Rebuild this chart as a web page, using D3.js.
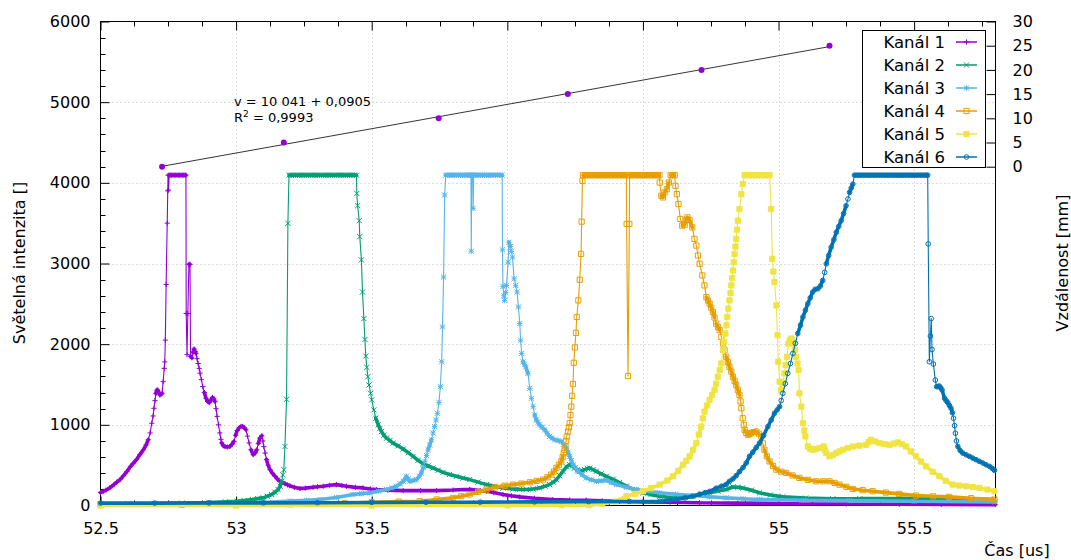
<!DOCTYPE html>
<html>
<head>
<meta charset="utf-8">
<script src="https://cdn.jsdelivr.net/npm/d3@7"></script>
<style>
  body { margin: 0; background: #fff; }
  text { font-family: "DejaVu Sans", Verdana, sans-serif; fill: #000; }
</style>
</head>
<body>
<svg id="chart" width="1071" height="560"></svg>
<script>
// ---- data: time [us] vs. light intensity, one array per channel ----
const channelNames = ["Kanál 1", "Kanál 2", "Kanál 3", "Kanál 4", "Kanál 5", "Kanál 6"];
const channelColors = ["#9400d3", "#009e73", "#56b4e9", "#e69f00", "#f0e442", "#0072b2"];
const channelSymbols = ["plus", "cross", "star", "square", "squareFilled", "circle"];

const ch1 = [[52.500,160],[52.510,175],[52.520,190],[52.535,220],[52.550,260],[52.560,290],[52.572,320],[52.585,370],[52.597,420],[52.610,480],[52.620,520],[52.633,570],[52.645,630],[52.658,690],[52.668,750],[52.676,815],[52.683,900],[52.689,1020],[52.694,1110],[52.697,1205],[52.701,1300],[52.704,1390],[52.708,1430],[52.711,1430],[52.715,1400],[52.719,1370],[52.723,1380],[52.727,1390],[52.731,1535],[52.735,1700],[52.737,1780],[52.739,2050],[52.742,2740],[52.746,3500],[52.748,3900],[52.749,4095],[52.751,3910],[52.753,4095],[52.757,4095],[52.762,4095],[52.767,4095],[52.772,4095],[52.777,4095],[52.782,4095],[52.787,4095],[52.792,4095],[52.797,4095],[52.802,4095],[52.807,4095],[52.812,4095],[52.815,4095],[52.816,2380],[52.819,1870],[52.822,2380],[52.826,2990],[52.830,2990],[52.832,1850],[52.837,1830],[52.841,1900],[52.845,1940],[52.849,1910],[52.852,1885],[52.856,1820],[52.860,1760],[52.864,1700],[52.867,1640],[52.872,1560],[52.877,1475],[52.883,1400],[52.889,1330],[52.895,1290],[52.901,1275],[52.907,1310],[52.913,1340],[52.918,1320],[52.922,1290],[52.926,1200],[52.930,1105],[52.935,1000],[52.940,900],[52.944,820],[52.947,775],[52.953,740],[52.959,730],[52.968,725],[52.977,730],[52.985,760],[52.992,795],[52.998,870],[53.004,930],[53.012,965],[53.018,980],[53.024,980],[53.030,965],[53.036,940],[53.042,860],[53.048,775],[53.055,690],[53.063,630],[53.070,650],[53.076,690],[53.082,770],[53.088,835],[53.095,865],[53.099,800],[53.102,730],[53.107,650],[53.112,570],[53.118,500],[53.125,445],[53.134,400],[53.143,365],[53.152,330],[53.161,300],[53.170,285],[53.180,270],[53.190,255],[53.198,245],[53.215,225],[53.235,210],[53.255,215],[53.284,226],[53.300,232],[53.321,238],[53.345,250],[53.370,259],[53.390,248],[53.407,238],[53.440,225],[53.468,218],[53.495,205],[53.518,198],[53.560,190],[53.616,185],[53.680,185],[53.739,185],[53.800,192],[53.861,200],[53.900,185],[53.923,177],[53.950,160],[53.984,136],[54.015,120],[54.046,107],[54.100,90],[54.168,74],[54.230,68],[54.291,66],[54.350,58],[54.414,50],[54.500,45],[54.600,40],[54.709,35],[54.850,30],[55.072,22],[55.250,18],[55.445,15],[55.600,12],[55.799,10]];

const ch2 = [[52.500,20],[52.600,22],[52.700,25],[52.800,30],[52.900,38],[52.960,45],[53.004,53],[53.030,62],[53.060,75],[53.080,85],[53.100,95],[53.115,115],[53.131,136],[53.143,165],[53.155,198],[53.162,240],[53.168,300],[53.172,380],[53.176,444],[53.180,732],[53.186,1317],[53.191,3498],[53.195,4095],[53.203,4095],[53.211,4095],[53.219,4095],[53.227,4095],[53.235,4095],[53.243,4095],[53.251,4095],[53.259,4095],[53.267,4095],[53.275,4095],[53.283,4095],[53.291,4095],[53.299,4095],[53.307,4095],[53.315,4095],[53.323,4095],[53.331,4095],[53.339,4095],[53.347,4095],[53.355,4095],[53.363,4095],[53.371,4095],[53.379,4095],[53.387,4095],[53.395,4095],[53.403,4095],[53.411,4095],[53.419,4095],[53.427,4095],[53.435,4095],[53.444,4095],[53.445,3868],[53.448,3716],[53.454,3531],[53.456,3333],[53.462,3045],[53.466,2646],[53.471,2317],[53.475,2058],[53.478,1852],[53.482,1712],[53.486,1597],[53.490,1494],[53.496,1391],[53.500,1309],[53.508,1185],[53.515,1082],[53.524,1000],[53.530,955],[53.536,917],[53.545,870],[53.555,835],[53.567,805],[53.579,774],[53.597,740],[53.616,700],[53.635,655],[53.653,609],[53.671,560],[53.689,519],[53.708,490],[53.726,465],[53.745,438],[53.763,411],[53.787,385],[53.812,362],[53.836,340],[53.861,321],[53.892,290],[53.923,259],[53.953,238],[53.984,218],[54.021,206],[54.045,200],[54.070,198],[54.095,205],[54.119,218],[54.140,240],[54.156,259],[54.170,290],[54.181,321],[54.193,370],[54.205,424],[54.218,480],[54.230,506],[54.240,490],[54.248,465],[54.258,440],[54.267,424],[54.276,432],[54.285,444],[54.295,458],[54.304,465],[54.316,445],[54.328,424],[54.346,392],[54.365,362],[54.390,325],[54.414,285],[54.439,240],[54.470,190],[54.500,157],[54.530,135],[54.562,115],[54.590,103],[54.623,95],[54.655,103],[54.684,115],[54.715,140],[54.746,157],[54.777,180],[54.807,198],[54.832,230],[54.850,225],[54.868,218],[54.900,190],[54.930,157],[54.970,130],[55.016,107],[55.100,92],[55.200,83],[55.300,85],[55.445,90],[55.600,82],[55.796,74]];

const ch3 = [[52.500,15],[52.700,16],[52.900,20],[53.000,25],[53.100,38],[53.200,55],[53.260,65],[53.309,74],[53.370,100],[53.431,136],[53.462,147],[53.493,157],[53.525,178],[53.555,198],[53.575,218],[53.591,238],[53.605,270],[53.616,300],[53.628,362],[53.634,330],[53.640,300],[53.652,310],[53.665,321],[53.675,360],[53.683,403],[53.690,470],[53.696,547],[53.702,620],[53.708,691],[53.714,750],[53.720,815],[53.726,900],[53.732,979],[53.737,1060],[53.742,1144],[53.748,1276],[53.753,1473],[53.758,1782],[53.761,2214],[53.765,2831],[53.769,3848],[53.773,4095],[53.780,4095],[53.788,4095],[53.796,4095],[53.804,4095],[53.812,4095],[53.820,4095],[53.828,4095],[53.836,4095],[53.844,4095],[53.852,4095],[53.860,4095],[53.866,4095],[53.867,3152],[53.869,4095],[53.873,4095],[53.874,3683],[53.876,4095],[53.884,4095],[53.892,4095],[53.900,4095],[53.908,4095],[53.916,4095],[53.924,4095],[53.932,4095],[53.940,4095],[53.948,4095],[53.956,4095],[53.964,4095],[53.972,4095],[53.981,4095],[53.982,3169],[53.984,2716],[53.987,2600],[53.990,2543],[53.994,2640],[53.997,2728],[54.003,3016],[54.006,3263],[54.011,3210],[54.015,3150],[54.019,3078],[54.025,2811],[54.031,2728],[54.036,2646],[54.041,2461],[54.046,2255],[54.049,2049],[54.053,1885],[54.058,1782],[54.063,1750],[54.068,1720],[54.076,1638],[54.083,1453],[54.089,1329],[54.095,1226],[54.101,1123],[54.107,1062],[54.113,1030],[54.119,1000],[54.128,970],[54.138,938],[54.147,895],[54.156,856],[54.165,835],[54.175,815],[54.187,805],[54.199,794],[54.208,760],[54.218,712],[54.224,660],[54.230,609],[54.236,555],[54.242,506],[54.251,465],[54.261,424],[54.276,380],[54.291,342],[54.310,318],[54.328,300],[54.346,305],[54.365,313],[54.383,285],[54.402,259],[54.440,225],[54.476,198],[54.520,178],[54.562,157],[54.620,140],[54.684,123],[54.745,108],[54.807,95],[54.870,83],[54.930,74],[55.100,66],[55.261,60],[55.500,52],[55.799,45]];

const ch4 = [[52.500,8],[52.800,10],[53.000,12],[53.200,16],[53.300,20],[53.400,28],[53.500,40],[53.600,48],[53.677,53],[53.740,75],[53.800,95],[53.830,115],[53.861,136],[53.892,168],[53.923,198],[53.955,225],[53.990,245],[54.021,259],[54.052,272],[54.083,288],[54.108,305],[54.132,321],[54.148,350],[54.162,383],[54.172,420],[54.181,465],[54.190,505],[54.199,547],[54.204,600],[54.208,650],[54.211,690],[54.214,732],[54.217,800],[54.219,856],[54.224,917],[54.227,970],[54.230,1021],[54.233,1120],[54.236,1226],[54.239,1360],[54.242,1506],[54.245,1769],[54.249,1959],[54.253,2140],[54.256,2337],[54.262,2543],[54.267,2798],[54.272,3119],[54.274,3519],[54.277,4025],[54.279,4095],[54.287,4095],[54.295,4095],[54.303,4095],[54.311,4095],[54.319,4095],[54.327,4095],[54.335,4095],[54.343,4095],[54.351,4095],[54.359,4095],[54.367,4095],[54.375,4095],[54.383,4095],[54.391,4095],[54.399,4095],[54.407,4095],[54.415,4095],[54.423,4095],[54.431,4095],[54.439,4095],[54.440,3490],[54.445,1605],[54.450,3490],[54.451,4095],[54.459,4095],[54.467,4095],[54.475,4095],[54.483,4095],[54.491,4095],[54.499,4095],[54.507,4095],[54.515,4095],[54.523,4095],[54.531,4095],[54.539,4095],[54.547,4095],[54.555,4095],[54.561,4095],[54.562,4004],[54.568,3840],[54.574,3819],[54.580,3881],[54.588,3922],[54.596,4004],[54.602,4095],[54.610,4095],[54.617,4095],[54.620,3963],[54.625,3860],[54.631,3737],[54.638,3552],[54.645,3469],[54.654,3481],[54.660,3540],[54.664,3572],[54.672,3539],[54.682,3448],[54.690,3305],[54.697,3222],[54.703,3099],[54.709,2996],[54.719,2852],[54.727,2728],[54.734,2584],[54.740,2540],[54.746,2502],[54.752,2450],[54.758,2399],[54.764,2330],[54.770,2255],[54.777,2210],[54.783,2173],[54.789,2090],[54.795,2008],[54.801,1925],[54.807,1843],[54.813,1780],[54.819,1720],[54.826,1660],[54.832,1597],[54.838,1545],[54.844,1494],[54.850,1430],[54.856,1370],[54.860,1290],[54.863,1206],[54.868,1082],[54.872,1000],[54.875,938],[54.881,900],[54.887,877],[54.893,885],[54.899,897],[54.908,910],[54.918,917],[54.927,890],[54.936,856],[54.942,770],[54.948,691],[54.957,610],[54.967,547],[54.980,490],[54.992,444],[55.010,420],[55.028,403],[55.052,372],[55.077,342],[55.108,318],[55.139,300],[55.165,300],[55.188,300],[55.207,280],[55.225,259],[55.250,232],[55.274,206],[55.310,190],[55.347,177],[55.396,160],[55.445,144],[55.507,123],[55.570,114],[55.629,107],[55.710,90],[55.796,74]];

const ch5 = [[52.500,0],[53.000,0],[53.500,0],[54.000,2],[54.200,3],[54.300,5],[54.350,20],[54.400,50],[54.439,115],[54.470,145],[54.500,177],[54.530,215],[54.562,259],[54.590,310],[54.611,362],[54.630,430],[54.648,506],[54.660,555],[54.672,609],[54.685,690],[54.697,774],[54.706,880],[54.715,979],[54.721,1080],[54.727,1164],[54.737,1240],[54.746,1309],[54.755,1370],[54.764,1432],[54.770,1510],[54.776,1597],[54.783,1680],[54.789,1761],[54.795,1926],[54.800,2030],[54.804,2132],[54.808,2235],[54.811,2337],[54.815,2440],[54.819,2543],[54.823,2635],[54.826,2728],[54.829,2820],[54.832,2914],[54.835,3015],[54.838,3119],[54.841,3210],[54.844,3305],[54.847,3420],[54.850,3531],[54.856,3675],[54.863,3860],[54.868,3984],[54.875,4095],[54.883,4095],[54.891,4095],[54.899,4095],[54.907,4095],[54.915,4095],[54.923,4095],[54.931,4095],[54.939,4095],[54.947,4095],[54.955,4095],[54.963,4095],[54.967,4095],[54.973,3675],[54.977,3058],[54.981,2900],[54.985,2769],[54.992,2481],[54.996,2111],[54.999,1782],[55.004,1535],[55.010,1432],[55.016,1514],[55.022,1638],[55.026,1740],[55.031,1843],[55.037,2008],[55.042,2050],[55.047,2070],[55.051,2050],[55.055,2008],[55.060,1930],[55.065,1843],[55.070,1760],[55.074,1679],[55.077,1391],[55.084,1226],[55.090,1021],[55.095,930],[55.099,856],[55.108,732],[55.117,705],[55.126,691],[55.138,700],[55.151,712],[55.166,732],[55.171,690],[55.176,650],[55.188,609],[55.200,625],[55.213,650],[55.225,670],[55.237,691],[55.255,712],[55.274,732],[55.298,742],[55.323,753],[55.332,785],[55.341,815],[55.356,795],[55.372,774],[55.390,762],[55.409,753],[55.425,768],[55.440,782],[55.455,760],[55.470,732],[55.488,670],[55.507,609],[55.525,545],[55.544,485],[55.568,420],[55.593,362],[55.617,305],[55.642,259],[55.667,248],[55.692,238],[55.716,228],[55.741,218],[55.770,198],[55.796,177]];

const ch6 = [[52.500,30],[52.700,30],[52.900,32],[53.100,33],[53.300,35],[53.500,38],[53.700,40],[53.900,42],[54.100,45],[54.300,48],[54.450,50],[54.562,53],[54.600,65],[54.623,74],[54.655,95],[54.684,115],[54.709,140],[54.730,160],[54.746,175],[54.770,215],[54.790,240],[54.807,262],[54.819,300],[54.832,330],[54.844,370],[54.856,420],[54.869,470],[54.881,527],[54.893,609],[54.905,660],[54.918,720],[54.930,774],[54.945,870],[54.961,979],[54.973,1060],[54.985,1144],[54.995,1185],[55.004,1226],[55.010,1300],[55.016,1391],[55.025,1510],[55.034,1638],[55.044,1760],[55.053,1885],[55.062,2010],[55.071,2132],[55.081,2235],[55.090,2337],[55.099,2420],[55.108,2502],[55.117,2575],[55.126,2646],[55.135,2680],[55.145,2687],[55.154,2720],[55.163,2790],[55.170,2890],[55.176,2996],[55.185,3100],[55.194,3201],[55.204,3295],[55.213,3387],[55.222,3460],[55.231,3531],[55.240,3620],[55.249,3716],[55.256,3800],[55.262,3881],[55.268,3935],[55.274,3984],[55.280,4095],[55.288,4095],[55.296,4095],[55.304,4095],[55.312,4095],[55.320,4095],[55.328,4095],[55.336,4095],[55.344,4095],[55.352,4095],[55.360,4095],[55.368,4095],[55.376,4095],[55.384,4095],[55.392,4095],[55.400,4095],[55.408,4095],[55.416,4095],[55.424,4095],[55.432,4095],[55.440,4095],[55.448,4095],[55.456,4095],[55.464,4095],[55.472,4095],[55.480,4095],[55.488,4095],[55.496,4095],[55.504,4095],[55.512,4095],[55.520,4095],[55.528,4095],[55.536,4095],[55.544,4095],[55.550,4095],[55.552,3243],[55.556,1782],[55.560,2100],[55.563,2317],[55.566,1934],[55.571,1753],[55.578,1556],[55.583,1473],[55.588,1475],[55.593,1481],[55.598,1460],[55.603,1432],[55.612,1329],[55.618,1300],[55.624,1276],[55.630,1240],[55.636,1206],[55.641,1150],[55.645,1082],[55.649,990],[55.652,897],[55.656,800],[55.661,732],[55.670,680],[55.679,650],[55.692,628],[55.704,609],[55.716,588],[55.728,568],[55.740,548],[55.753,527],[55.765,505],[55.778,485],[55.788,460],[55.796,436]];

const channels = [ch1, ch2, ch3, ch4, ch5, ch6];

// detector positions: arrival time [us] vs. distance [mm]
const fitTimes = [52.727, 53.176, 53.747, 54.223, 54.716, 55.188];
const fitDistances = [0, 5, 10, 15, 20, 25];

const xTicks = [52.5, 53, 53.5, 54, 54.5, 55, 55.5];
const yTicks = [0, 1000, 2000, 3000, 4000, 5000, 6000];
const y2Ticks = [0, 5, 10, 15, 20, 25, 30];

// ---- layout ----
const svg = d3.select("#chart");
const L = 100.5, R = 995.5, T = 21.5, B = 505.5;

const x = d3.scaleLinear().domain([52.5, 55.8]).range([L, R]);
const y = d3.scaleLinear().domain([0, 6000]).range([B, T]);
const y2 = d3.scaleLinear().domain([-70, 30]).range([B, T]);

svg.append("rect").attr("width", 1071).attr("height", 560).attr("fill", "#fff");

// grid
const grid = svg.append("g").attr("stroke", "#b8b8b8").attr("stroke-width", 1)
  .attr("stroke-dasharray", "1,3").attr("fill", "none");
grid.selectAll(".gx").data(xTicks.filter(d => d > 52.5)).join("line")
  .attr("x1", d => Math.round(x(d)) + 0.5).attr("x2", d => Math.round(x(d)) + 0.5)
  .attr("y1", T).attr("y2", B);
grid.selectAll(".gy").data(yTicks.filter(d => d > 0 && d < 6000)).join("line")
  .attr("x1", L).attr("x2", R)
  .attr("y1", d => Math.round(y(d)) + 0.5).attr("y2", d => Math.round(y(d)) + 0.5);

// axes
function styleAxis(g) {
  g.select(".domain").remove();
  g.selectAll(".tick line").attr("stroke", "#000");
  g.selectAll(".tick text").attr("font-size", 16).attr("fill", "#000")
    .style("font-family", "'DejaVu Sans', Verdana, sans-serif");
}
svg.append("g").attr("transform", `translate(0,${B})`)
  .call(d3.axisBottom(x).tickValues(xTicks).tickSize(-9).tickPadding(17).tickFormat(d3.format("")))
  .call(styleAxis);
svg.append("g").attr("transform", `translate(0,${T})`)
  .call(d3.axisTop(x).tickValues(xTicks).tickSize(-9).tickFormat(""))
  .call(styleAxis);
svg.append("g").attr("transform", `translate(${L},0)`)
  .call(d3.axisLeft(y).tickValues(yTicks).tickSize(-9).tickPadding(10).tickFormat(d3.format("d")))
  .call(styleAxis);
svg.append("g").attr("transform", `translate(${R},0)`)
  .call(d3.axisRight(y2).tickValues(y2Ticks).tickSize(-9).tickPadding(17).tickFormat(d3.format("d")))
  .call(styleAxis);

// minor ticks
const minorX = d3.range(52.625, 55.8, 0.125).filter(v => Math.abs(v * 2 - Math.round(v * 2)) > 1e-6);
const minorY = d3.range(200, 6000, 200).filter(v => v % 1000 !== 0);
const mt = svg.append("g").attr("stroke", "#000").attr("stroke-width", 1);
mt.selectAll(".mxb").data(minorX).join("line")
  .attr("x1", d => Math.round(x(d)) + 0.5).attr("x2", d => Math.round(x(d)) + 0.5)
  .attr("y1", B).attr("y2", B - 5);
mt.selectAll(".mxt").data(minorX).join("line")
  .attr("x1", d => Math.round(x(d)) + 0.5).attr("x2", d => Math.round(x(d)) + 0.5)
  .attr("y1", T).attr("y2", T + 5);
mt.selectAll(".my").data(minorY).join("line")
  .attr("x1", L).attr("x2", L + 5)
  .attr("y1", d => Math.round(y(d)) + 0.5).attr("y2", d => Math.round(y(d)) + 0.5);

// border
svg.append("rect").attr("x", L).attr("y", T).attr("width", R - L).attr("height", B - T)
  .attr("fill", "none").attr("stroke", "#000").attr("stroke-width", 1);

// axis titles
svg.append("text").attr("transform", "translate(25,263) rotate(-90)")
  .attr("text-anchor", "middle").attr("font-size", 16).text("Světelná intenzita []");
svg.append("text").attr("transform", "translate(1068,263) rotate(-90)")
  .attr("text-anchor", "middle").attr("font-size", 16).text("Vzdálenost [mm]");
svg.append("text").attr("x", 1017).attr("y", 556)
  .attr("text-anchor", "middle").attr("font-size", 16).text("Čas [us]");

// point symbols
function symbolPath(kind, s) {
  switch (kind) {
    case "plus": return `M${-s},0H${s}M0,${-s}V${s}`;
    case "cross": return `M${-s},${-s}L${s},${s}M${-s},${s}L${s},${-s}`;
    case "star": return `M${-s},0H${s}M0,${-s}V${s}M${-s},${-s}L${s},${s}M${-s},${s}L${s},${-s}`;
    case "square":
    case "squareFilled": return `M${-s},${-s}H${s}V${s}H${-s}Z`;
    case "circle": return d3.symbol(d3.symbolCircle, Math.PI * s * s * 0.8)();
  }
}
function drawSymbol(g, kind, color, px, py) {
  const s = 2.6;
  const filled = kind === "squareFilled";
  g.append("path").attr("d", symbolPath(kind, s))
    .attr("transform", `translate(${px},${py})`)
    .attr("fill", filled ? color : "none")
    .attr("stroke", color).attr("stroke-width", 1);
}

// series: where consecutive samples sit close together on screen their
// symbols merge into a solid band, so gentle stretches get a wide stroke
const plot = svg.append("g");
const line = d3.line().x(d => x(d[0])).y(d => y(d[1]));
channels.forEach((data, i) => {
  const g = plot.append("g");
  const band = d3.path();
  for (let k = 1; k < data.length; k++) {
    const x0 = x(data[k - 1][0]), y0 = y(data[k - 1][1]);
    const x1 = x(data[k][0]), y1 = y(data[k][1]);
    if (Math.abs(y1 - y0) <= 3.5 * Math.abs(x1 - x0)) {
      band.moveTo(x0, y0);
      band.lineTo(x1, y1);
    }
  }
  g.append("path").attr("d", band.toString())
    .attr("fill", "none").attr("stroke", channelColors[i]).attr("stroke-width", 3.6)
    .attr("stroke-linecap", "round").attr("stroke-linejoin", "round");
  g.append("path").datum(data).attr("d", line)
    .attr("fill", "none").attr("stroke", channelColors[i]).attr("stroke-width", 1.1)
    .attr("stroke-linejoin", "round");
  data.forEach(d => drawSymbol(g, channelSymbols[i], channelColors[i], x(d[0]), y(d[1])));
});

// linear fit of distance vs. time
const meanT = d3.mean(fitTimes), meanD = d3.mean(fitDistances);
const slope = d3.sum(fitTimes.map((t, i) => (t - meanT) * (fitDistances[i] - meanD))) /
              d3.sum(fitTimes.map(t => (t - meanT) ** 2));
const intercept = meanD - slope * meanT;
const tMin = d3.min(fitTimes), tMax = d3.max(fitTimes);
svg.append("line")
  .attr("x1", x(tMin)).attr("y1", y2(intercept + slope * tMin))
  .attr("x2", x(tMax)).attr("y2", y2(intercept + slope * tMax))
  .attr("stroke", "#000").attr("stroke-width", 0.8);
svg.append("g").selectAll("circle").data(fitTimes).join("circle")
  .attr("cx", d => x(d)).attr("cy", (d, i) => y2(fitDistances[i]))
  .attr("r", 3).attr("fill", "#9400d3");

svg.append("text").attr("x", 234).attr("y", 106).attr("font-size", 13)
  .text("v = 10 041 + 0,0905");
const r2 = svg.append("text").attr("x", 234).attr("y", 122).attr("font-size", 13);
r2.append("tspan").text("R");
r2.append("tspan").attr("font-size", 9).attr("dy", -5).text("2");
r2.append("tspan").attr("dy", 5).text(" = 0,9993");

// legend
const lg = svg.append("g");
lg.append("rect").attr("x", 862.5).attr("y", 30.5).attr("width", 123).attr("height", 137)
  .attr("fill", "#fff").attr("stroke", "#000").attr("stroke-width", 1);
channelNames.forEach((name, i) => {
  const cy = 42 + i * 23;
  lg.append("text").attr("x", 945).attr("y", cy + 6).attr("text-anchor", "end")
    .attr("font-size", 16.5).text(name);
  lg.append("line").attr("x1", 956).attr("x2", 977).attr("y1", cy).attr("y2", cy)
    .attr("stroke", channelColors[i]).attr("stroke-width", 1.5);
  drawSymbol(lg, channelSymbols[i], channelColors[i], 966.5, cy);
});
</script>
</body>
</html>
